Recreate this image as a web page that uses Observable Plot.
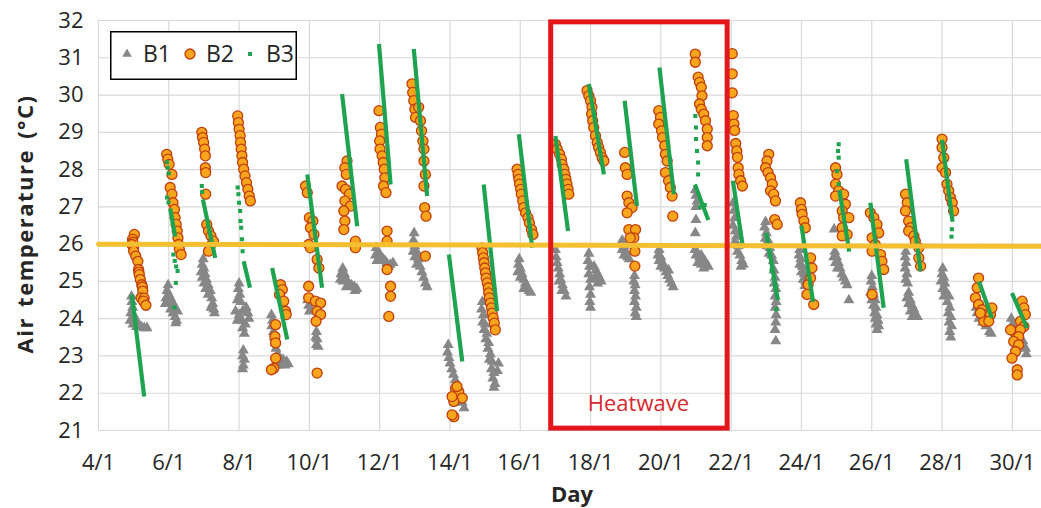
<!DOCTYPE html>
<html>
<head>
<meta charset="utf-8">
<script src="https://cdn.jsdelivr.net/npm/d3@7"></script>
<script src="https://cdn.jsdelivr.net/npm/@observablehq/plot@0.6"></script>
<style>
  body { margin: 0; background: #fff; }
  #wrap { position: relative; width: 1041px; height: 508px; font-family: "Open Sans", sans-serif; }
  #legend { position: absolute; left: 110px; top: 31px; }
</style>
</head>
<body>
<div id="wrap">
  <div id="chart"></div>
  <svg id="legend" width="187" height="49"></svg>
</div>
<script>
// ---------- data (day of January, air temperature °C) ----------
const xTicks = [4, 6, 8, 10, 12, 14, 16, 18, 20, 22, 24, 26, 28, 30];
const yTicks = [21, 22, 23, 24, 25, 26, 27, 28, 29, 30, 31, 32];
const seriesNames = ["B1", "B2", "B3"];

const b1 = [
  [4.94,24.6],[4.95,24.45],[4.97,24.3],[4.92,24.15],[5.0,24.1],[4.9,23.95],[5.05,24.0],[5.1,23.9],[4.98,23.85],[5.15,23.8],[5.22,23.78],[5.3,23.75],[5.38,23.75],[5.08,23.78],
  [5.98,24.9],[5.95,24.75],[6.0,24.65],[5.92,24.55],[6.05,24.55],[5.9,24.4],[6.02,24.4],[6.1,24.45],[6.15,24.35],[6.05,24.25],[6.2,24.25],[6.12,24.15],[6.25,24.2],[6.18,24.05],[6.22,23.95],[6.2,23.88],
  [6.98,25.6],[6.95,25.45],[7.0,25.35],[6.92,25.25],[7.03,25.2],[6.95,25.1],[7.07,25.05],[7.0,24.95],[7.12,24.9],[7.05,24.8],[7.18,24.75],[7.12,24.65],[7.22,24.55],[7.25,24.4],[7.28,24.25],[7.3,24.15],[7.2,24.3],
  [8.0,24.95],[7.98,24.8],[8.02,24.65],[7.95,24.5],[8.05,24.45],[7.9,24.2],[8.0,24.1],[8.1,24.2],[8.2,24.3],[8.25,24.15],[7.95,23.95],[8.08,23.95],[8.18,23.85],[8.1,23.75],[8.28,24.0],[8.15,23.6],[8.12,23.15],[8.1,23.0],[8.15,22.9],[8.12,22.75],[8.1,22.65],
  [8.92,24.1],[8.95,23.95],[8.93,23.8],[8.98,23.65],[9.0,23.5],[9.02,23.35],[9.05,23.2],[9.1,23.05],[9.15,22.95],[9.25,22.9],[9.2,22.8],[9.3,22.75],[9.35,22.85],[9.12,22.75],[9.4,22.78],
  [9.95,24.5],[9.98,24.35],[10.0,24.2],[10.2,23.65],[10.18,23.5],[10.22,23.45],[10.2,23.3],[10.25,23.25],
  [10.95,25.35],[10.9,25.2],[11.0,25.2],[10.88,25.05],[11.05,25.05],[10.95,25.0],[11.12,24.95],[11.2,24.9],[11.28,24.85],[11.35,24.8],[11.05,24.85],[11.3,24.75],
  [11.9,25.9],[11.95,25.8],[11.88,25.7],[12.0,25.7],[12.05,25.65],[11.92,25.55],[12.1,25.6],[12.15,25.55],[12.2,25.5],[12.3,25.45],[12.38,25.5],[12.25,25.4],
  [12.98,26.3],[12.96,26.1],[13.0,25.95],[12.95,25.8],[13.05,25.8],[13.0,25.65],[13.1,25.6],[13.05,25.45],[13.15,25.4],[13.2,25.25],[13.25,25.1],[13.3,24.95],[13.35,24.85],
  [13.95,23.3],[13.93,23.1],[13.97,22.95],[14.0,22.8],[14.05,22.65],[14.1,22.5],[14.15,22.35],[14.2,22.2],[14.25,22.05],[14.3,21.9],[14.35,21.75],[14.4,21.6],
  [14.92,24.45],[14.9,24.25],[14.95,24.1],[14.93,23.9],[15.0,23.85],[14.97,23.7],[15.05,23.6],[15.02,23.45],[15.1,23.35],[15.08,23.2],[15.15,23.05],[15.12,22.9],[15.2,22.85],[15.18,22.65],[15.25,22.55],[15.22,22.4],[15.28,22.25],[15.25,22.15],[15.35,22.6],[15.38,22.8],
  [15.97,25.6],[15.95,25.45],[16.0,25.35],[15.93,25.25],[16.05,25.2],[16.0,25.1],[16.1,25.05],[16.15,24.95],[16.2,24.85],[16.1,24.8],[16.25,24.75],[16.3,24.7],
  [17.0,25.85],[17.02,25.65],[17.05,25.5],[17.08,25.35],[17.12,25.2],[17.15,25.05],[17.2,24.9],[17.25,24.75],[17.3,24.6],[17.18,24.75],[17.1,25.0],
  [17.95,25.75],[17.93,25.55],[17.97,25.4],[17.95,25.2],[18.0,25.05],[17.97,24.85],[18.0,24.65],[17.98,24.45],[18.0,24.3],[18.1,25.4],[18.15,25.3],[18.2,25.2],[18.12,25.1],[18.25,25.1],[18.3,25.0],[18.2,24.95],
  [18.9,26.1],[18.95,25.95],[18.9,25.85],[19.0,25.8],[18.95,25.7],[19.05,25.65],[19.1,25.6],[19.25,25.15],[19.23,25.0],[19.27,24.9],[19.25,24.75],[19.28,24.6],[19.25,24.45],[19.3,24.3],[19.27,24.15],[19.3,24.05],
  [19.95,25.85],[19.92,25.7],[20.0,25.65],[19.95,25.55],[20.05,25.5],[20.0,25.4],[20.1,25.35],[20.15,25.25],[20.2,25.15],[20.25,25.05],[20.3,24.95],[20.35,24.85],[20.22,25.3],
  [20.98,27.45],[21.0,27.3],[21.03,27.15],[21.0,27.0],[21.0,26.65],[20.98,26.3],[20.97,25.85],[21.0,25.7],[21.05,25.75],[21.1,25.65],[21.15,25.7],[21.2,25.6],[21.05,25.5],[21.15,25.45],[21.25,25.55],[21.3,25.45],[21.35,25.4],[21.22,25.35],
  [22.05,27.1],[22.08,26.9],[22.1,26.7],[22.05,26.5],[22.12,26.35],[22.15,26.2],[22.1,26.05],[22.2,25.95],[22.18,25.8],[22.25,25.7],[22.3,25.55],[22.35,25.45],[22.28,25.4],
  [22.98,26.6],[22.95,26.45],[23.0,26.3],[22.97,26.15],[23.05,26.1],[23.02,25.95],[23.1,25.9],[23.08,25.75],[23.15,25.7],[23.2,25.55],[23.22,25.3],[23.25,25.1],[23.23,24.95],[23.27,24.8],[23.25,24.6],[23.28,24.45],[23.25,24.3],[23.28,24.1],[23.27,23.9],[23.25,23.7],[23.27,23.4],
  [23.95,25.85],[23.93,25.7],[23.98,25.6],[23.95,25.45],[24.02,25.4],[24.0,25.25],[24.08,25.2],[24.05,25.05],[24.12,25.0],[24.18,24.95],[24.1,24.88],
  [24.93,26.4],[24.95,25.8],[24.92,25.65],[25.0,25.65],[24.97,25.5],[25.05,25.5],[25.02,25.35],[25.1,25.35],[25.15,25.2],[25.2,25.1],[25.25,25.0],[25.3,24.9],[25.35,24.5],
  [26.0,25.15],[25.98,25.0],[26.02,24.85],[25.97,24.7],[26.05,24.65],[26.0,24.5],[26.1,24.5],[26.05,24.35],[26.12,24.3],[26.08,24.15],[26.15,24.1],[26.1,24.0],[26.18,23.95],[26.12,23.85],[26.2,23.8],[26.15,23.7],
  [26.97,25.8],[26.95,25.65],[26.98,25.5],[26.95,25.35],[27.0,25.2],[26.97,25.05],[27.02,24.95],[27.05,24.7],[27.0,24.55],[27.1,24.5],[27.05,24.4],[27.15,24.35],[27.1,24.2],[27.2,24.25],[27.25,24.1],[27.3,24.05],[27.15,24.05],
  [28.02,25.35],[28.0,25.2],[28.05,25.1],[27.97,25.0],[28.08,24.95],[28.02,24.8],[28.1,24.75],[28.05,24.6],[28.2,24.6],[28.15,24.45],[28.22,24.3],[28.18,24.15],[28.25,24.05],[28.2,23.9],[28.27,23.8],[28.22,23.65],[28.25,23.5],
  [28.97,24.3],[29.0,24.15],[29.05,24.0],[29.15,23.9],[29.25,23.8],[29.35,23.65],[29.4,23.6],
  [29.97,24.0],[30.0,23.85],[30.05,23.7],[30.1,23.6],[30.2,23.5],[30.3,23.4],[30.38,23.2],[30.4,23.05]
];

const b2 = [
  [5.02,26.26],[4.97,26.13],[4.98,26.05],[4.95,25.99],[5.0,25.9],[5.0,25.81],[5.06,25.68],[5.12,25.54],[5.14,25.32],[5.15,25.25],[5.16,25.18],[5.19,25.05],[5.23,24.91],[5.25,24.85],[5.26,24.74],[5.21,24.56],[5.3,24.55],[5.28,24.47],[5.35,24.36],
  [5.94,28.41],[5.97,28.28],[6.01,28.14],[6.09,27.87],[6.04,27.52],[6.09,27.34],[6.12,27.11],[6.16,26.93],[6.18,26.71],[6.21,26.53],[6.24,26.35],[6.26,26.17],[6.28,25.99],[6.3,25.86],[6.35,25.72],
  [6.94,29.0],[6.96,28.86],[6.99,28.73],[7.02,28.55],[7.04,28.37],[7.04,28.05],[7.05,27.92],[7.05,27.34],[7.08,26.53],[7.13,26.35],[7.2,26.22],[7.27,26.08],[7.18,25.95],[7.13,25.81],
  [7.96,29.44],[7.98,29.26],[8.0,29.08],[8.03,28.91],[8.04,28.73],[8.06,28.55],[8.08,28.37],[8.1,28.19],[8.13,28.01],[8.17,27.83],[8.21,27.65],[8.25,27.47],[8.29,27.29],[8.32,27.16],
  [9.18,24.91],[9.23,24.78],[9.15,24.65],[9.27,24.47],[9.32,24.2],[9.34,24.11],[9.04,23.84],[9.02,23.52],[9.04,23.35],[9.04,22.94],[8.99,22.67],[8.92,22.63],
  [9.89,27.56],[9.94,27.38],[10.0,26.71],[10.1,26.62],[10.03,26.44],[10.13,26.26],[9.98,25.99],[10.03,25.9],[10.22,25.59],[10.27,25.36],[9.98,24.87],[9.98,24.56],[10.17,24.47],[10.32,24.42],[10.22,24.2],[10.32,24.11],[10.19,23.93],[10.22,22.54],
  [11.07,28.23],[11.01,28.05],[11.05,27.87],[10.93,27.56],[11.03,27.47],[11.14,27.34],[11.01,27.16],[11.17,27.02],[10.98,26.89],[11.01,26.62],[10.98,26.39],[11.31,26.08],[11.31,25.9],
  [11.98,29.58],[12.02,29.13],[12.05,28.95],[12.0,28.77],[12.01,28.55],[12.07,28.37],[12.1,28.19],[12.13,28.01],[12.15,27.78],[12.11,27.56],[12.18,27.38],[12.21,26.35],[12.21,26.08],[12.21,25.32],[12.31,24.87],[12.31,24.6],[12.26,24.06],
  [12.92,30.3],[12.94,30.07],[12.97,29.85],[13.0,29.62],[13.02,29.4],[13.11,29.67],[13.16,29.31],[13.19,29.04],[13.23,28.77],[13.26,28.55],[13.26,28.23],[13.3,27.87],[13.26,27.56],[13.28,26.98],[13.32,26.75],[13.3,25.68],
  [14.16,22.13],[14.25,22.04],[14.35,21.87],[14.11,21.78],[14.2,22.18],[14.06,21.91],[14.11,21.37],[14.06,21.42],
  [14.91,25.9],[14.93,25.77],[14.95,25.63],[14.97,25.5],[14.99,25.36],[15.01,25.23],[15.03,25.09],[15.06,24.96],[15.09,24.83],[15.1,24.69],[15.12,24.56],[15.15,24.42],[15.18,24.29],[15.2,24.15],[15.23,24.02],[15.26,23.88],[15.29,23.7],
  [15.91,28.01],[15.94,27.87],[15.96,27.74],[15.98,27.61],[16.01,27.47],[16.03,27.34],[16.07,27.16],[16.1,26.98],[16.15,26.84],[16.22,26.71],[16.26,26.57],[16.32,26.39],[16.36,26.26],
  [17.0,28.68],[17.05,28.55],[17.12,28.41],[17.17,28.28],[17.19,28.14],[17.24,28.01],[17.27,27.87],[17.3,27.74],[17.33,27.61],[17.36,27.47],[17.38,27.34],
  [17.9,30.12],[17.95,29.98],[18.0,29.85],[18.04,29.67],[18.03,29.49],[18.06,29.31],[18.09,29.13],[18.14,28.91],[18.19,28.73],[18.23,28.59],[18.28,28.46],[18.33,28.32],[18.38,28.23],
  [18.97,28.46],[18.99,28.05],[19.04,27.87],[19.04,27.29],[19.09,27.11],[19.18,26.98],[19.04,26.84],[19.09,26.39],[19.28,26.39],[19.23,26.17],[19.13,26.17],[19.26,25.81],[19.26,25.41],
  [19.94,29.58],[19.99,29.4],[19.94,29.22],[20.02,29.04],[20.05,28.86],[20.11,28.64],[20.13,28.41],[20.18,28.23],[20.13,27.92],[20.22,27.7],[20.27,27.52],[20.32,27.29],[20.34,26.75],
  [20.98,31.1],[20.98,30.88],[21.06,30.48],[21.1,30.34],[21.15,30.21],[21.17,29.98],[21.1,29.76],[21.15,29.62],[21.22,29.49],[21.27,29.31],[21.32,29.09],[21.32,28.86],[21.32,28.64],
  [22.03,31.11],[22.03,30.57],[22.03,30.06],[22.06,29.45],[22.08,29.22],[22.1,29.05],[22.13,28.7],[22.16,28.5],[22.18,28.33],[22.2,28.05],[22.22,27.87],[22.27,27.7],[22.32,27.56],
  [23.07,28.41],[23.02,28.23],[22.98,28.05],[23.05,27.92],[23.12,27.78],[23.17,27.61],[23.12,27.43],[23.21,27.34],[23.26,27.16],[23.24,26.66],[23.31,26.53],
  [23.97,27.11],[24.0,26.93],[24.02,26.8],[24.07,26.62],[24.11,26.44],[24.26,25.63],[24.3,25.36],[24.26,25.09],[24.19,24.91],[24.16,24.65],[24.35,24.38],
  [24.97,28.05],[25.01,27.87],[24.97,27.61],[25.06,27.43],[24.97,27.29],[25.2,27.34],[25.25,27.07],[25.16,26.89],[25.2,26.71],[25.35,26.71],[25.16,26.44],[25.3,26.26],[25.16,26.22],
  [25.96,26.84],[26.06,26.71],[26.15,26.53],[26.2,26.3],[26.01,26.17],[26.1,25.99],[26.01,25.81],[26.25,25.72],[26.29,25.54],[26.34,25.32],[26.01,24.65],
  [26.96,27.34],[27.01,27.11],[26.96,26.89],[27.05,26.62],[27.1,26.44],[27.05,26.35],[27.2,26.22],[27.24,26.08],[27.34,25.9],[27.34,25.63],[27.39,25.41],
  [28.0,28.82],[28.0,28.59],[28.05,28.32],[28.0,28.05],[28.1,27.92],[28.14,27.61],[28.19,27.43],[28.24,27.25],[28.29,27.11],[28.33,26.89],
  [29.04,25.09],[29.0,24.83],[28.95,24.56],[29.04,24.38],[29.14,24.24],[29.23,24.11],[29.38,24.11],[29.19,23.93],[29.33,23.93],[29.09,24.15],[29.42,24.29],
  [30.28,24.47],[30.33,24.29],[30.37,24.11],[30.23,23.93],[30.33,23.79],[30.04,23.66],[29.95,23.7],[30.23,23.7],[30.18,23.52],[30.04,23.39],[30.18,23.3],[30.09,23.12],[29.99,22.94],[30.14,22.63],[30.14,22.49]
];

// B3: dense runs of the logger (each run = one day's streak)
const b3Runs = [
  [[4.95,24.65],[5.3,21.91]],
  [[6.04,26.95],[6.18,26.2]],
  [[6.97,27.2],[7.32,25.63]],
  [[8.13,25.54],[8.31,24.83]],
  [[8.94,25.36],[9.37,23.44]],
  [[9.94,27.87],[10.36,24.83]],
  [[10.93,30.03],[11.36,26.48]],
  [[11.98,31.37],[12.31,27.6]],
  [[12.97,31.24],[13.35,27.29]],
  [[13.97,25.72],[14.35,22.85]],
  [[14.96,27.6],[15.34,24.2]],
  [[15.96,28.95],[16.34,25.9]],
  [[17.0,28.9],[17.36,26.35]],
  [[17.95,30.3],[18.38,27.87]],
  [[18.97,29.85],[19.32,27.02]],
  [[19.96,30.74],[20.37,27.34]],
  [[20.97,27.6],[21.35,26.65]],
  [[22.05,27.7],[22.33,25.95]],
  [[23.0,26.3],[23.33,24.5]],
  [[24.0,26.5],[24.33,24.45]],
  [[25.08,27.45],[25.36,25.8]],
  [[25.96,27.11],[26.34,24.29]],
  [[26.98,28.28],[27.39,25.27]],
  [[28.0,28.8],[28.3,26.6]],
  [[29.05,25.0],[29.42,24.02]],
  [[29.99,24.69],[30.42,23.75]]
];
// B3: sparse single readings
const b3 = [
  [5.95,28.2],[5.97,28.05],[6.0,27.9],[5.95,27.25],[5.99,27.12],[6.13,25.72],[6.17,25.55],[6.21,25.4],[6.25,25.28],[6.2,24.96],[6.16,24.3],
  [6.94,27.56],[6.95,27.4],
  [7.96,27.52],[7.98,27.34],[8.0,27.11],[8.03,26.89],[8.04,26.62],[8.06,26.44],[8.08,26.13],[8.1,25.81],
  [20.98,29.44],[21.0,29.13],[21.0,28.82],[21.03,28.5],[21.06,28.19],[21.06,27.87],[21.12,27.0],[21.25,27.05],
  [23.28,24.25],[23.25,24.85],[23.15,25.3],
  [25.06,28.68],[25.04,28.5],[25.06,28.32],[25.01,27.96],[25.06,27.61],
  [28.28,26.4],[28.27,26.2]
];

// reference line at 26 °C and the heatwave period
const refLine = [[4, 26.0], [30.83, 25.94]];
const heatwave = [{start: 16.88, end: 21.9, low: 21.05, high: 31.95, label: "Heatwave", labelDay: 19.36, labelTemp: 21.7}];

// ---------- styles ----------
const C_B1 = "#878787", C_B2 = "#fba51c", C_B2S = "#c03d0c", C_B3 = "#1fa350";
const FONT = "'Open Sans', sans-serif";

const b3Flat = b3Runs.flatMap((run, i) => run.map(p => ({day: p[0], t: p[1], run: i})));

const chart = Plot.plot({
  width: 1041,
  height: 508,
  marginLeft: 98,
  marginRight: 0,
  marginTop: 20,
  marginBottom: 78,
  style: {fontFamily: FONT, fontSize: "22px", color: "#262626", background: "#fff"},
  x: {domain: [4, 30.83], ticks: xTicks, tickFormat: d => `${d}/1`, tickSize: 0, tickPadding: 24, label: null},
  y: {domain: [21, 32], ticks: yTicks, tickSize: 0, tickPadding: 15, label: null},
  marks: [
    Plot.ruleX(xTicks, {stroke: "#d9d9d9", strokeWidth: 1.2}),
    Plot.ruleY(yTicks, {stroke: "#d9d9d9", strokeWidth: 1.2}),
    Plot.dot(b1, {x: d => d[0], y: d => d[1], symbol: "triangle", r: 4.1, fill: C_B1, stroke: null}),
    Plot.dot(b2, {x: d => d[0], y: d => d[1], symbol: "circle", r: 5, fill: C_B2, stroke: C_B2S, strokeWidth: 1.3}),
    Plot.line(b3Flat, {x: "day", y: "t", z: "run", stroke: C_B3, strokeWidth: 4.2, strokeLinecap: "butt"}),
    Plot.dot(b3, {x: d => d[0], y: d => d[1], symbol: "square", r: 2.3, fill: C_B3, stroke: null}),
    Plot.line(refLine, {x: d => d[0], y: d => d[1], stroke: "#f4c031", strokeWidth: 5}),
    Plot.rect(heatwave, {x1: "start", x2: "end", y1: "low", y2: "high", fill: "none", stroke: "#e3161c", strokeWidth: 5}),
    Plot.text(heatwave, {x: "labelDay", y: "labelTemp", text: "label", fill: "#d7282e", fontSize: 22})
  ]
});

// axis titles
const svg = d3.select(chart);
svg.append("text")
  .attr("transform", "translate(25,224) rotate(-90)")
  .attr("text-anchor", "middle").attr("dy", "0.36em")
  .attr("font-family", FONT).attr("font-size", 22).attr("font-weight", "bold").attr("fill", "#262626")
  .attr("letter-spacing", "1.5px").attr("word-spacing", "3px")
  .text("Air temperature (°C)");
svg.append("text")
  .attr("x", 572).attr("y", 494)
  .attr("text-anchor", "middle").attr("dy", "0.36em")
  .attr("font-family", FONT).attr("font-size", 22).attr("font-weight", "bold").attr("fill", "#262626")
  .text("Day");

document.getElementById("chart").appendChild(chart);

// legend (inside plot area, top-left)
const lg = d3.select("#legend");
lg.append("rect").attr("x", 0.75).attr("y", 0.75).attr("width", 185.5).attr("height", 47.5)
  .attr("fill", "#fff").attr("stroke", "#000").attr("stroke-width", 1.5);
const items = [
  {name: seriesNames[0], sym: d3.symbolTriangle, size: 40, fill: C_B1, stroke: "none", cx: 17},
  {name: seriesNames[1], sym: d3.symbolCircle, size: 78, fill: C_B2, stroke: C_B2S, cx: 80},
  {name: seriesNames[2], sym: d3.symbolSquare, size: 16, fill: C_B3, stroke: "none", cx: 140}
];
items.forEach(it => {
  lg.append("path").attr("d", d3.symbol(it.sym, it.size)())
    .attr("transform", `translate(${it.cx},23)`)
    .attr("fill", it.fill).attr("stroke", it.stroke).attr("stroke-width", 1.3);
  lg.append("text").attr("x", it.cx + 16).attr("y", 23).attr("dy", "0.36em")
    .attr("font-family", FONT).attr("font-size", 23).attr("fill", "#262626").text(it.name);
});
</script>
</body>
</html>
